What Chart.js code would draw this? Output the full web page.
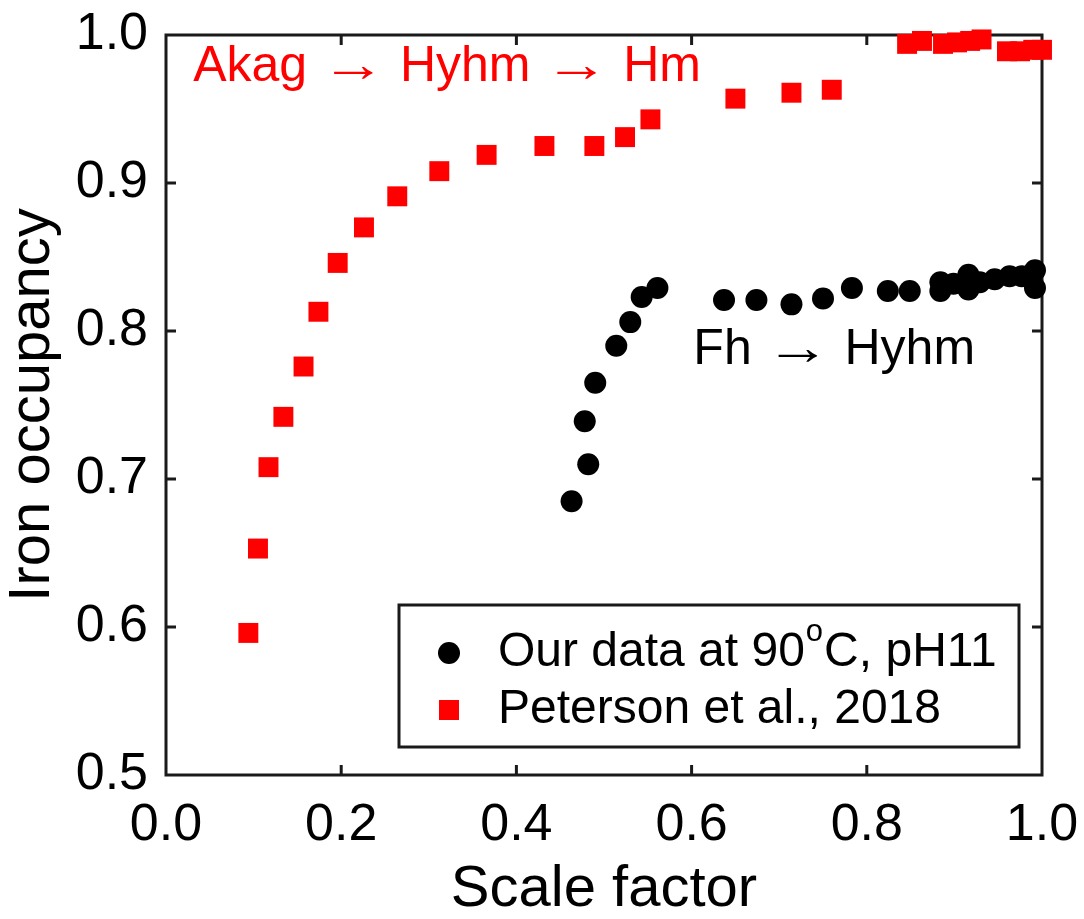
<!DOCTYPE html>
<html lang="en">
<head>
  <meta charset="UTF-8" />
  <title>Iron occupancy vs scale factor</title>
  <script src="https://cdn.jsdelivr.net/npm/chart.js"></script>
  <style>
    html, body { margin: 0; padding: 0; background: #fff; }
    #wrap { width: 1084px; height: 919px; }
  </style>
</head>
<body>
  <div id="wrap"><canvas id="chart" width="1084" height="919"></canvas></div>
  <script>
    // Our data at 90 C, pH 11 (black circles)
    const oursX = [0.463, 0.482, 0.478, 0.490, 0.514, 0.530, 0.543, 0.561, 0.637, 0.674, 0.714, 0.750, 0.783,
                   0.824, 0.849, 0.884, 0.884, 0.899, 0.916, 0.916, 0.929, 0.946, 0.963, 0.977, 0.992, 0.992];
    const oursY = [0.685, 0.710, 0.739, 0.765, 0.790, 0.806, 0.823, 0.829, 0.821, 0.821, 0.818, 0.822, 0.829,
                   0.827, 0.827, 0.833, 0.827, 0.832, 0.838, 0.828, 0.833, 0.835, 0.837, 0.837, 0.841, 0.829];

    // Peterson et al., 2018 (red squares)
    const petersonX = [0.094, 0.105, 0.117, 0.134, 0.157, 0.174, 0.196, 0.226, 0.264, 0.312, 0.366, 0.432, 0.489, 0.524,
                       0.553, 0.650, 0.714, 0.760, 0.846, 0.863, 0.887, 0.903, 0.918, 0.931, 0.960, 0.975, 0.990, 1.000];
    const petersonY = [0.596, 0.653, 0.708, 0.742, 0.776, 0.813, 0.846, 0.870, 0.891, 0.908, 0.919, 0.925, 0.925, 0.931,
                       0.943, 0.957, 0.961, 0.963, 0.994, 0.996, 0.994, 0.995, 0.996, 0.997, 0.989, 0.989, 0.990, 0.990];

    const xTicks = [0.0, 0.2, 0.4, 0.6, 0.8, 1.0];
    const yTicks = [0.5, 0.6, 0.7, 0.8, 0.9, 1.0];

    // legend label parts: [before superscript, superscript, after]
    const oursLabel = ['Our data at 90', 'o', 'C, pH11'];
    const petersonLabel = ['Peterson et al., 2018'];

    const notes = [
      { text: 'Akag \u2192 Hyhm \u2192 Hm', x: 0.031, y: 0.978, color: '#ff0000', size: 50 },
      { text: 'Fh \u2192 Hyhm', x: 0.602, y: 0.787, color: '#000000', size: 50 }
    ];

    const FONT = '"Liberation Sans", Arial, Helvetica, sans-serif';
    const AXIS = '#1a1a1a';

    function toPoints(xs, ys) {
      return xs.map((x, i) => ({ x: x, y: ys[i] }));
    }

    // text with a stretched (long, thin) arrow like TeX \rightarrow
    function drawNote(ctx, text, x, y) {
      const parts = text.split('\u2192');
      const stretch = 1.3;
      let tx = x;
      parts.forEach((p, i) => {
        ctx.fillText(p, tx, y);
        tx += ctx.measureText(p).width;
        if (i < parts.length - 1) {
          const aw = ctx.measureText('\u2192').width;
          ctx.save();
          ctx.translate(tx, y);
          ctx.scale(stretch, 1);
          ctx.fillText('\u2192', 0, 0);
          ctx.restore();
          tx += aw * stretch;
        }
      });
    }

    // MATLAB-like box, inward ticks, text notes and inner legend
    const decor = {
      id: 'decor',
      beforeDatasetsDraw(chart) {
        const ctx = chart.ctx;
        const a = chart.chartArea;
        const xs = chart.scales.x, ys = chart.scales.y;
        ctx.save();
        ctx.strokeStyle = AXIS;
        ctx.lineWidth = 3;
        ctx.strokeRect(a.left, a.top, a.right - a.left, a.bottom - a.top);
        ctx.beginPath();
        xTicks.slice(1, -1).forEach(v => {
          const px = xs.getPixelForValue(v);
          ctx.moveTo(px, a.bottom); ctx.lineTo(px, a.bottom - 10);
          ctx.moveTo(px, a.top); ctx.lineTo(px, a.top + 10);
        });
        yTicks.slice(1, -1).forEach(v => {
          const py = ys.getPixelForValue(v);
          ctx.moveTo(a.left, py); ctx.lineTo(a.left + 10, py);
          ctx.moveTo(a.right, py); ctx.lineTo(a.right - 10, py);
        });
        ctx.stroke();

        ctx.textAlign = 'left';
        ctx.textBaseline = 'middle';
        notes.forEach(n => {
          ctx.font = n.size + 'px ' + FONT;
          ctx.fillStyle = n.color;
          drawNote(ctx, n.text, xs.getPixelForValue(n.x), ys.getPixelForValue(n.y));
        });
        ctx.restore();
      },
      afterDraw(chart) {
        const ctx = chart.ctx;
        const a = chart.chartArea;
        const left = a.left + 233, top = a.bottom - 170;
        const w = 620, h = 142;
        ctx.save();
        ctx.fillStyle = '#fff';
        ctx.fillRect(left, top, w, h);
        ctx.strokeStyle = AXIS;
        ctx.lineWidth = 3;
        ctx.strokeRect(left, top, w, h);

        const labels = [oursLabel, petersonLabel];
        chart.data.datasets.forEach((ds, i) => {
          const cy = top + 48 + i * 57;
          const mx = left + 50;
          ctx.fillStyle = ds.backgroundColor;
          if (ds.pointStyle === 'rect') {
            ctx.fillRect(mx - 10, cy - 10, 20, 20);
          } else {
            ctx.beginPath();
            ctx.arc(mx, cy, 11, 0, Math.PI * 2);
            ctx.fill();
          }
          ctx.fillStyle = '#000';
          ctx.textBaseline = 'middle';
          ctx.textAlign = 'left';
          let tx = left + 99;
          const parts = labels[i];
          ctx.font = '48px ' + FONT;
          ctx.fillText(parts[0], tx, cy);
          tx += ctx.measureText(parts[0]).width;
          if (parts.length > 1) {
            ctx.font = '31px ' + FONT;
            ctx.fillText(parts[1], tx + 1, cy - 21);
            tx += ctx.measureText(parts[1]).width + 2;
            ctx.font = '48px ' + FONT;
            ctx.fillText(parts[2], tx, cy);
          }
        });
        ctx.restore();
      }
    };

    new Chart(document.getElementById('chart'), {
      type: 'scatter',
      data: {
        datasets: [
          {
            label: oursLabel.join(''),
            data: toPoints(oursX, oursY),
            pointStyle: 'circle',
            pointRadius: 11,
            pointHoverRadius: 11,
            backgroundColor: '#000000',
            borderWidth: 0,
            clip: false
          },
          {
            label: petersonLabel[0],
            data: toPoints(petersonX, petersonY),
            pointStyle: 'rect',
            pointRadius: 14.1,
            pointHoverRadius: 14.1,
            backgroundColor: '#ff0000',
            borderWidth: 0,
            clip: false
          }
        ]
      },
      options: {
        responsive: false,
        animation: false,
        layout: { autoPadding: false, padding: { left: 0, top: 35, right: 42, bottom: 0 } },
        plugins: { legend: { display: false }, tooltip: { enabled: false } },
        scales: {
          x: {
            type: 'linear',
            min: 0, max: 1,
            afterBuildTicks: s => { s.ticks = xTicks.map(v => ({ value: v })); },
            afterFit: s => { s.height = 144; s.paddingLeft = 0; s.paddingRight = 0; },
            grid: { display: false, drawTicks: false },
            border: { display: false },
            ticks: {
              padding: 19,
              color: '#000',
              font: { family: FONT, size: 52 },
              callback: v => v.toFixed(1)
            },
            title: {
              display: true,
              text: 'Scale factor',
              color: '#000',
              font: { family: FONT, size: 58, lineHeight: 1 },
              padding: { top: 0, bottom: 0 }
            }
          },
          y: {
            type: 'linear',
            min: 0.5, max: 1.0,
            afterBuildTicks: s => { s.ticks = yTicks.map(v => ({ value: v })); },
            afterFit: s => { s.width = 166; s.paddingTop = 0; s.paddingBottom = 0; },
            grid: { display: false, drawTicks: false },
            border: { display: false },
            ticks: {
              padding: 18,
              color: '#000',
              font: { family: FONT, size: 52 },
              callback: v => v.toFixed(1)
            },
            title: {
              display: true,
              text: 'Iron occupancy',
              color: '#000',
              font: { family: FONT, size: 58, lineHeight: 1.15 },
              padding: { top: 0, bottom: 0 }
            }
          }
        }
      },
      plugins: [decor]
    });
  </script>
</body>
</html>
